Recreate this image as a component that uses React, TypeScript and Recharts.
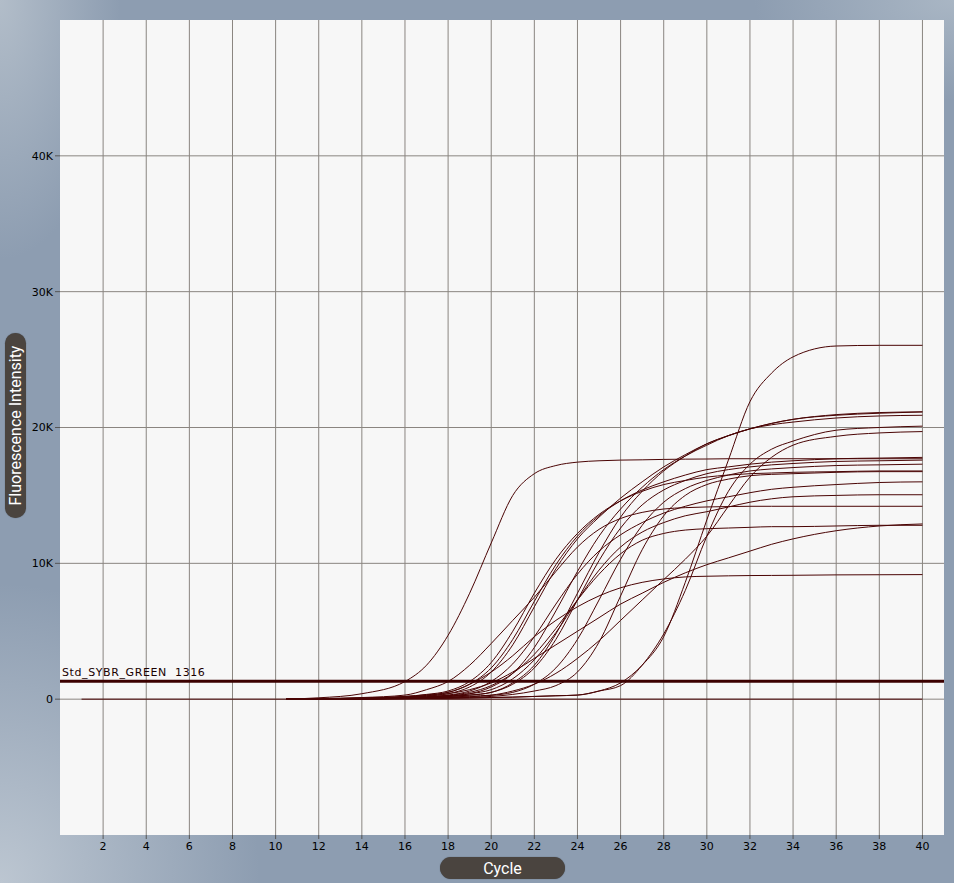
import { LineChart, Line, XAxis, YAxis, CartesianGrid, ReferenceLine } from 'recharts';

const CYCLES = [10.5, 12, 14, 16, 17, 18, 19, 20, 21, 22, 23, 24, 25, 26, 27, 28, 29, 30, 31, 32, 33, 34, 36, 38, 40];

const X_TICKS = [2, 4, 6, 8, 10, 12, 14, 16, 18, 20, 22, 24, 26, 28, 30, 32, 34, 36, 38, 40];
const Y_TICKS = [0, 10, 20, 30, 40];

const THRESHOLD = 1.316;
const THRESHOLD_NAME = 'Std_SYBR_GREEN';

// no-template controls, flat from cycle 1
const NTC_CYCLES = [1, 40];
const NTC_VALUES = [0, 0];

const earlySample = [0, 0.1, 0.4, 1.3, 2.5, 4.7, 7.8, 11.5, 15.0, 16.6, 17.2, 17.45, 17.55, 17.6, 17.62, 17.65, 17.67, 17.68, 17.7, 17.7, 17.7, 17.7, 17.7, 17.7, 17.7];
const gentleEarly = [0, 0.05, 0.12, 0.3, 0.7, 1.3, 2.5, 4.1, 5.8, 7.5, 9.4, 11.2, 12.5, 13.3, 13.75, 14.0, 14.1, 14.15, 14.18, 14.2, 14.2, 14.2, 14.2, 14.2, 14.2];
const sampleC = [0, 0.02, 0.08, 0.2, 0.35, 0.6, 1.3, 2.7, 5.0, 7.8, 10.3, 12.2, 13.6, 14.6, 15.3, 15.8, 16.1, 16.35, 16.5, 16.6, 16.65, 16.7, 16.75, 16.8, 16.8];
const sampleD = [0, 0.02, 0.06, 0.15, 0.28, 0.5, 1.1, 2.3, 4.4, 7.2, 9.9, 12.0, 13.5, 14.6, 15.4, 16.0, 16.5, 16.9, 17.1, 17.3, 17.45, 17.55, 17.7, 17.75, 17.8];
const sampleE = [0, 0.02, 0.05, 0.12, 0.22, 0.4, 0.9, 2.0, 4.0, 6.8, 9.6, 11.8, 13.4, 14.8, 16.0, 17.1, 18.0, 18.8, 19.4, 19.9, 20.3, 20.6, 20.9, 21.05, 21.15];
const lowPlateau = [0, 0.03, 0.08, 0.2, 0.32, 0.5, 1.1, 2.0, 3.2, 4.6, 5.8, 6.8, 7.6, 8.2, 8.6, 8.85, 9.0, 9.05, 9.08, 9.1, 9.11, 9.12, 9.15, 9.16, 9.17];
const slowRise = [0, 0.02, 0.06, 0.15, 0.25, 0.4, 0.7, 1.2, 2.0, 3.0, 4.0, 5.0, 6.0, 7.0, 7.8, 8.6, 9.3, 9.9, 10.4, 10.9, 11.4, 11.8, 12.4, 12.75, 12.9];
const sampleF = [0, 0.01, 0.04, 0.1, 0.18, 0.3, 0.6, 1.3, 2.6, 4.6, 7.0, 9.2, 10.9, 12.1, 13.0, 13.7, 14.2, 14.6, 14.9, 15.2, 15.45, 15.6, 15.8, 15.95, 16.0];
const sampleG = [0, 0.01, 0.04, 0.1, 0.17, 0.28, 0.5, 1.0, 1.9, 3.3, 5.2, 7.3, 9.2, 10.7, 11.7, 12.2, 12.45, 12.55, 12.6, 12.65, 12.7, 12.7, 12.75, 12.8, 12.8];
const sampleH = [0, 0.01, 0.03, 0.08, 0.13, 0.22, 0.4, 0.9, 1.9, 3.8, 6.5, 9.4, 12.0, 14.0, 15.6, 16.9, 17.9, 18.7, 19.4, 19.9, 20.3, 20.6, 20.95, 21.1, 21.15];
const sampleI = [0, 0.01, 0.03, 0.08, 0.14, 0.25, 0.4, 0.7, 1.5, 2.9, 4.9, 7.3, 9.5, 11.2, 12.3, 13.0, 13.5, 13.8, 14.15, 14.5, 14.75, 14.9, 15.0, 15.05, 15.05];
const sampleJ = [0, 0.01, 0.03, 0.07, 0.12, 0.2, 0.3, 0.5, 1.1, 2.3, 4.4, 7.3, 10.2, 12.6, 14.3, 15.4, 16.1, 16.6, 16.9, 17.1, 17.25, 17.35, 17.5, 17.55, 17.6];
const sampleK = [0, 0.01, 0.03, 0.07, 0.12, 0.2, 0.3, 0.5, 1.2, 2.5, 4.8, 7.8, 10.8, 13.4, 15.3, 16.8, 17.9, 18.8, 19.4, 19.9, 20.2, 20.4, 20.7, 20.85, 20.9];
const lateModerate = [0, 0.01, 0.03, 0.06, 0.1, 0.15, 0.22, 0.3, 0.6, 1.1, 1.9, 3.0, 4.3, 5.8, 7.3, 8.8, 10.3, 12.0, 14.2, 16.35, 17.8, 18.7, 19.35, 19.6, 19.7];
const sampleL = [0, 0.01, 0.02, 0.05, 0.08, 0.12, 0.18, 0.28, 0.5, 1.1, 2.3, 4.4, 7.3, 10.3, 12.8, 14.5, 15.5, 16.1, 16.5, 16.8, 16.95, 17.05, 17.2, 17.25, 17.3];
const sampleM = [0, 0.01, 0.02, 0.04, 0.06, 0.09, 0.13, 0.2, 0.35, 0.6, 1.0, 2.0, 4.2, 7.6, 11.0, 13.5, 15.0, 15.8, 16.2, 16.45, 16.55, 16.6, 16.7, 16.75, 16.75];
const lateTop = [0, 0.01, 0.02, 0.04, 0.05, 0.07, 0.09, 0.12, 0.15, 0.2, 0.25, 0.3, 0.6, 1.2, 2.5, 4.6, 8.6, 13.2, 17.6, 21.9, 24.0, 25.2, 26.0, 26.05, 26.05];
const lateSteep = [0, 0.01, 0.02, 0.04, 0.05, 0.07, 0.09, 0.12, 0.15, 0.2, 0.25, 0.3, 0.6, 1.0, 2.5, 4.8, 8.0, 12.0, 15.3, 17.3, 18.4, 19.0, 19.8, 20.0, 20.1];

const SAMPLES = [
  earlySample, gentleEarly, sampleC, sampleD, sampleE, lowPlateau, slowRise, sampleF, sampleG,
  sampleH, sampleI, sampleJ, sampleK, lateModerate, sampleL, sampleM, lateTop, lateSteep,
];

const CURVE_COLOR = '#4a0404';
const TICK_STYLE = { fill: '#000', fontSize: 11, fontFamily: 'DejaVu Sans, sans-serif' };

const toPoints = (xs: number[], ys: number[]) => xs.map((cycle, i) => ({ cycle, value: ys[i] }));

function ThresholdLabel(props: any) {
  const vb = props.viewBox || {};
  return (
    <text
      x={(vb.x ?? 60) + 2}
      y={(vb.y ?? 681) - 5}
      fill="#1a0000"
      fontSize={11}
      letterSpacing={0.6}
      fontFamily="DejaVu Sans, sans-serif"
      style={{ whiteSpace: 'pre' }}
    >
      {`${THRESHOLD_NAME}  ${Math.round(THRESHOLD * 1000)}`}
    </text>
  );
}

export default function App() {
  const pill = {
    position: 'absolute' as const,
    background: '#4a443f',
    color: '#fff',
    fontFamily: 'Roboto, sans-serif',
    fontSize: 16,
    display: 'flex',
    alignItems: 'center',
    justifyContent: 'center',
    boxShadow: '0 0 1px rgba(0,0,0,0.5)',
  };

  return (
    <div
      style={{
        position: 'relative',
        width: 954,
        height: 883,
        overflow: 'hidden',
        background:
          'radial-gradient(ellipse 260px 300px at 0% 100%, #bcc6d1 0%, rgba(188,198,209,0) 100%),' +
          'radial-gradient(ellipse 120px 260px at 0% 0%, #b2bdc9 0%, rgba(178,189,201,0) 100%),' +
          'radial-gradient(ellipse 200px 100px at 100% 0%, #a9b6c4 0%, rgba(169,182,196,0) 100%),' +
          '#8d9db1',
      }}
    >
      <style>{'body{margin:0}'}</style>
      <LineChart width={954} height={883} margin={{ top: 20, right: 10, bottom: 0, left: 8 }}>
        <CartesianGrid
          fill="#f7f7f7"
          stroke="#8a8580"
          strokeWidth={1}
          horizontalValues={Y_TICKS}
          verticalValues={X_TICKS}
        />
        <XAxis
          type="number"
          dataKey="cycle"
          domain={[0, 41]}
          ticks={X_TICKS}
          allowDataOverflow
          axisLine={false}
          tickLine={{ stroke: '#555' }}
          tickSize={4}
          tickMargin={3}
          tick={TICK_STYLE}
          height={48}
        />
        <YAxis
          type="number"
          domain={[-10, 50]}
          ticks={Y_TICKS}
          allowDataOverflow
          axisLine={false}
          tickLine={{ stroke: '#555' }}
          tickSize={5}
          tickMargin={2}
          tick={TICK_STYLE}
          tickFormatter={(v: number) => (v === 0 ? '0' : `${v}K`)}
          width={52}
        />
        <Line
          data={toPoints(NTC_CYCLES, NTC_VALUES)}
          dataKey="value"
          stroke={CURVE_COLOR}
          strokeWidth={1}
          dot={false}
          isAnimationActive={false}
        />
        {SAMPLES.map((vals, i) => (
          <Line
            key={i}
            data={toPoints(CYCLES, vals)}
            dataKey="value"
            type="monotone"
            stroke={CURVE_COLOR}
            strokeWidth={1}
            dot={false}
            isAnimationActive={false}
          />
        ))}
        <ReferenceLine y={THRESHOLD} stroke="#3b0000" strokeWidth={3} label={<ThresholdLabel />} />
      </LineChart>
      <div style={{ ...pill, left: -77, top: 415, width: 185, height: 21, borderRadius: 11, transform: 'rotate(-90deg)' }}>
        Fluorescence Intensity
      </div>
      <div style={{ ...pill, left: 440, top: 857, width: 125, height: 22, borderRadius: 11 }}>Cycle</div>
    </div>
  );
}
